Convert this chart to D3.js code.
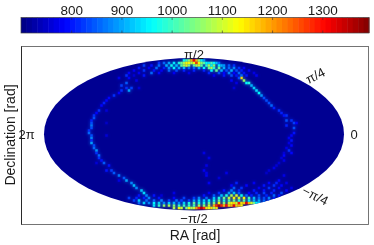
<!DOCTYPE html>
<html>
<head>
<meta charset="utf-8">
<script src="https://cdn.jsdelivr.net/npm/d3@7"></script>
<style>
  html, body { margin: 0; padding: 0; background: #fff; }
  svg { display: block; filter: blur(0.3px); }
  text { font-family: "Liberation Sans", Arial, sans-serif; fill: #1a1a1a; }
</style>
</head>
<body>
<script>
// colour bar
var barTicks = [800, 900, 1000, 1100, 1200, 1300];
var barRange = [700, 1393];
var skyValue = 712;

// map labels
var mapLabels = ["π/2", "π/4", "0", "−π/4", "−π/2", "2π"];
var mapLabelCol = [60, 108.5, 124, 108.5, 60, -7];
var mapLabelRow = [-1.5, 7, 30.5, 55, 64, 30.5];
var mapLabelAngle = [0, -27, 0, 27, 0, 0];

// cells are [col, row, value] on the 121 x 61 map grid
var topBand = [
  [56,1,960],[57,1,1000],[58,1,1060],[59,1,1180],[60,1,1310],[61,1,1180],[62,1,1060],[63,1,960],[64,1,900],
  [46,2,820],[48,2,860],[50,2,900],[52,2,950],[54,2,980],[55,2,1030],[56,2,1080],[57,2,1130],[58,2,1130],[59,2,1080],[60,2,1130],[61,2,1270],[62,2,1130],[63,2,1060],[64,2,1020],[65,2,960],[66,2,940],[67,2,1010],[68,2,960],[69,2,920],[70,2,860],
  [40,3,830],[43,3,800],[46,3,860],[49,3,910],[51,3,970],[53,3,920],[55,3,1020],[56,3,1080],[57,3,1110],[58,3,1050],[60,3,1020],[61,3,1080],[62,3,1110],[63,3,1020],[65,3,990],[66,3,1070],[67,3,960],[68,3,1050],[70,3,960],[71,3,910],[72,3,890],[74,3,850],[76,3,820],
  [38,4,800],[42,4,780],[45,4,860],[48,4,810],[50,4,890],[52,4,960],[54,4,910],[56,4,920],[58,4,860],[60,4,860],[62,4,910],[64,4,960],[66,4,1030],[67,4,1080],[68,4,980],[70,4,1030],[72,4,910],[74,4,860],[76,4,880],[78,4,820],[80,4,790],
  [36,5,780],[40,5,820],[44,5,800],[47,5,780],[50,5,860],[53,5,840],[56,5,810],[60,5,810],[64,5,810],[67,5,960],[69,5,1030],[71,5,910],[73,5,840],[75,5,910],[77,5,840],[79,5,810],[82,5,790],
  [34,6,790],[38,6,780],[43,6,860],[46,6,790],[52,6,780],[58,6,770],[66,6,810],[70,6,840],[72,6,790],[74,6,880],[76,6,790],[78,6,860],[80,6,800],[84,6,770],
  [33,7,820],[36,7,760],[40,7,800],[68,7,780],[72,7,800],[75,7,840],[77,7,800],[79,7,860],[81,7,800],[85,7,780]
];
var leftArc = [
  [34,8,790],[37,9,770],[33,10,850],[30,8,770],[31,11,830],[38,12,760],
  [35,12,830],[34,13,900],[33,12,820],
  [31,13,820],[30,14,790],[28,15,820],[26,16,790],[25,17,790],[24,18,810],
  [23,19,790],[22,21,820],[21,22,790],[20,23,820],[20,24,840],[19,25,810],
  [25,21,760],[19,26,840],[25,26,750],[19,27,870],[19,28,840],[18,29,820],[25,31,760],
  [18,30,860],[19,31,840],[19,32,880],[19,33,820],[19,34,900],[20,35,840],[20,36,860],
  [21,37,890],[21,38,820],[22,39,860],[22,40,820],[23,41,800],[24,42,850],[26,43,800],
  [21,42,760],[25,45,800],[27,45,830],[28,46,850],[30,47,870],[32,48,850],[33,49,900],
  [35,50,880],[36,51,920],[37,52,880],[39,53,920],[40,54,940],[41,55,880],[30,49,770]
];
var rightArc = [
  [79,8,1150],[78,8,840],[80,9,1060],[81,10,960],[82,10,980],[83,11,910],[84,12,930],
  [75,9,790],[77,10,770],[76,12,760],[85,13,940],[86,14,960],[87,15,890],[88,16,840],
  [89,17,840],[90,18,840],[91,19,860],[92,20,810],[94,21,820],[95,22,810],
  [96,23,800],[97,23,820],[97,25,840],[99,25,820],[100,26,830],[101,26,790],[97,27,810],
  [100,28,840],[100,30,800],[99,31,790],[98,32,780],[99,33,800],[98,34,770],[99,35,790],
  [97,36,770],[98,37,820],[96,38,760],[99,38,790],[96,39,790],[95,40,760],[96,41,770],
  [94,42,760],[93,43,760],[92,44,770],[90,45,760],[89,46,750]
];
var bottomBand = [
  [52,60,1080],[54,60,1130],[55,60,1100],[57,60,1050],[58,60,1130],[59,60,1080],[60,60,1100],[61,60,1200],[62,60,1280],[63,60,1350],[64,60,1280],[65,60,1150],[66,60,1130],[67,60,1150],[68,60,1080],[69,60,1150],
  [44,59,950],[46,59,1000],[48,59,1060],[50,59,1080],[52,59,1050],[54,59,1000],[56,59,1000],[58,59,1000],[60,59,1000],[62,59,1080],[64,59,1060],[66,59,1100],[68,59,1180],[69,59,1280],[70,59,1360],[71,59,1280],[72,59,1180],[73,59,1300],[74,59,1160],[75,59,1180],[76,59,1310],[77,59,1160],[78,59,1180],[79,59,1130],
  [38,58,860],[40,58,930],[42,58,880],[44,58,960],[46,58,930],[48,58,880],[50,58,930],[52,58,910],[54,58,880],[56,58,930],[58,58,980],[60,58,1030],[62,58,980],[64,58,980],[66,58,1030],[68,58,1050],[70,58,1130],[72,58,1060],[74,58,1100],[75,58,1130],[76,58,1160],[77,58,1110],[78,58,1290],[79,58,1150],[80,58,1170],[81,58,1320],[82,58,1180],[83,58,1110],[84,58,1040],[85,58,960],[86,58,920],[88,58,890],
  [36,57,830],[38,57,930],[41,57,860],[44,57,860],[47,57,880],[50,57,830],[53,57,860],[55,57,830],[58,57,830],[60,57,900],[62,57,940],[64,57,930],[66,57,960],[68,57,980],[70,57,1030],[72,57,980],[74,57,1010],[76,57,1030],[78,57,980],[80,57,1020],[82,57,960],[84,57,910],[86,57,910],[88,57,860],[90,57,840],
  [34,56,830],[37,56,810],[40,56,810],[42,56,880],[46,56,800],[52,56,790],[56,56,830],[60,56,830],[62,56,880],[65,56,860],[68,56,930],[70,56,980],[72,56,1040],[74,56,1090],[76,56,1130],[78,56,1110],[80,56,1130],[82,56,1020],[84,56,920],[86,56,860],[88,56,840],[90,56,880],[92,56,810],
  [38,55,800],[44,55,800],[47,55,760],[64,55,800],[68,55,850],[71,55,920],[73,55,980],[75,55,1080],[77,55,1100],[79,55,970],[81,55,860],[83,55,810],[86,55,840],[89,55,810],[92,55,860],[94,55,800],
  [52,54,770],[66,54,780],[70,54,820],[74,54,890],[76,54,920],[78,54,850],[82,54,790],[85,54,810],[88,54,830],[91,54,810],[95,54,840],
  [72,53,800],[75,53,870],[78,53,820],[84,53,800],[88,53,800],[92,53,810],[97,53,790],
  [76,52,850],[79,52,820],[86,52,780],[90,52,820],[94,52,790],[99,52,770],
  [75,51,790],[81,51,790],[88,51,800],[92,51,820],[95,51,790],
  [77,50,810],[84,50,780],[90,50,790],[93,50,810],[97,50,770],
  [66,50,780],[65,47,780],[65,46,770],[73,46,770],[64,45,780],[65,43,770],[66,40,770],[64,38,770],[94,49,790],[96,47,770],[70,48,760]
];

var width = 374, height = 245;
var boxLeft = 21.5, boxRight = 368.5, boxTop = 46.5, boxBottom = 224.5;

var svg = d3.select("body").append("svg")
  .attr("width", width)
  .attr("height", height);

var colour = d3.scaleLinear()
  .domain([0, 0.125, 0.375, 0.625, 0.875, 1].map(function(t) { return barRange[0] + t * (barRange[1] - barRange[0]); }))
  .range(["#000080", "#0000ff", "#00ffff", "#ffff00", "#ff0000", "#800000"]);

// colour bar, 64 steps like matlab's jet
var barX = d3.scaleLinear().domain(barRange).range([21, 369]);
var steps = d3.range(64).map(function(i) { return barRange[0] + (i + 0.5) * (barRange[1] - barRange[0]) / 64; });
var stepWidth = (barX.range()[1] - barX.range()[0]) / 64;

var bar = svg.append("g");
bar.selectAll("rect").data(steps).enter().append("rect")
  .attr("x", function(d) { return barX(d) - stepWidth / 2; })
  .attr("y", 17.5)
  .attr("width", stepWidth + 0.5)
  .attr("height", 15.5)
  .attr("fill", function(d) { return colour(d); });
bar.append("rect")
  .attr("x", 21).attr("y", 17.5).attr("width", 348).attr("height", 15.5)
  .attr("fill", "none").attr("stroke", "#444").attr("stroke-width", 0.7);

var barTop = svg.append("g")
  .attr("transform", "translate(0,17.5)")
  .call(d3.axisTop(barX).tickValues(barTicks).tickSize(-2.5).tickFormat(d3.format("d")));
barTop.select(".domain").remove();
barTop.selectAll("line").attr("stroke", "#333").attr("stroke-width", 0.6);
barTop.selectAll("text").attr("y", -2.5).attr("dy", 0).style("font-size", "13.5px").style("font-family", "'Liberation Sans', Arial, sans-serif");

var barBottom = svg.append("g")
  .attr("transform", "translate(0,33)")
  .call(d3.axisBottom(barX).tickValues(barTicks).tickSize(-2.5).tickFormat(""));
barBottom.select(".domain").remove();
barBottom.selectAll("line").attr("stroke", "#333").attr("stroke-width", 0.6);

// map frame
svg.append("rect")
  .attr("x", boxLeft).attr("y", boxTop)
  .attr("width", boxRight - boxLeft).attr("height", boxBottom - boxTop)
  .attr("fill", "#fff").attr("stroke", "#666").attr("stroke-width", 0.9);
svg.append("path")
  .attr("d", "M" + boxLeft + "," + boxTop + "V" + boxBottom)
  .attr("stroke", "#222").attr("stroke-width", 0.9);

// map grid
var col = d3.scaleLinear().domain([0, 120]).range([44, 344]);
var row = d3.scaleLinear().domain([0, 61]).range([58, 210.5]);
var cellW = col(1) - col(0), cellH = row(1) - row(0);

var defs = svg.append("defs");
defs.append("clipPath").attr("id", "sky").append("ellipse")
  .attr("cx", col(60)).attr("cy", row(30.5))
  .attr("rx", col(120) - col(60)).attr("ry", row(30.5) - row(0));

svg.append("ellipse")
  .attr("cx", col(60)).attr("cy", row(30.5))
  .attr("rx", col(120) - col(60)).attr("ry", row(30.5) - row(0))
  .attr("fill", colour(skyValue));

var cells = topBand.concat(leftArc, rightArc, bottomBand);
var clipped = svg.append("g").attr("clip-path", "url(#sky)");

// soft glow under the cells, the reference is a resampled image
function drawCells(blur, grow, opacity) {
  clipped.append("g")
    .style("filter", "blur(" + blur + "px)")
    .attr("opacity", opacity)
    .selectAll("rect").data(cells).enter().append("rect")
    .attr("x", function(d) { return col(d[0]) - cellW * grow / 2; })
    .attr("y", function(d) { return row(d[1]) - cellH * grow / 2; })
    .attr("width", cellW * grow)
    .attr("height", cellH * grow)
    .attr("fill", function(d) { return colour(d[2]); });
}
drawCells(1.4, 1.5, 0.4);
drawCells(0.6, 1, 0.95);

// labels on the map edge
mapLabels.forEach(function(t, i) {
  svg.append("text")
    .attr("transform", "translate(" + col(mapLabelCol[i]) + "," + row(mapLabelRow[i]) + ") rotate(" + mapLabelAngle[i] + ")")
    .attr("text-anchor", "middle")
    .attr("dy", "0.36em")
    .style("font-size", "13px")
    .text(t);
});

svg.append("text")
  .attr("x", 195).attr("y", 240)
  .attr("text-anchor", "middle")
  .style("font-size", "14px")
  .text("RA [rad]");
svg.append("text")
  .attr("transform", "translate(15,135) rotate(-90)")
  .attr("text-anchor", "middle")
  .style("font-size", "14px")
  .text("Declination [rad]");
</script>
</body>
</html>
